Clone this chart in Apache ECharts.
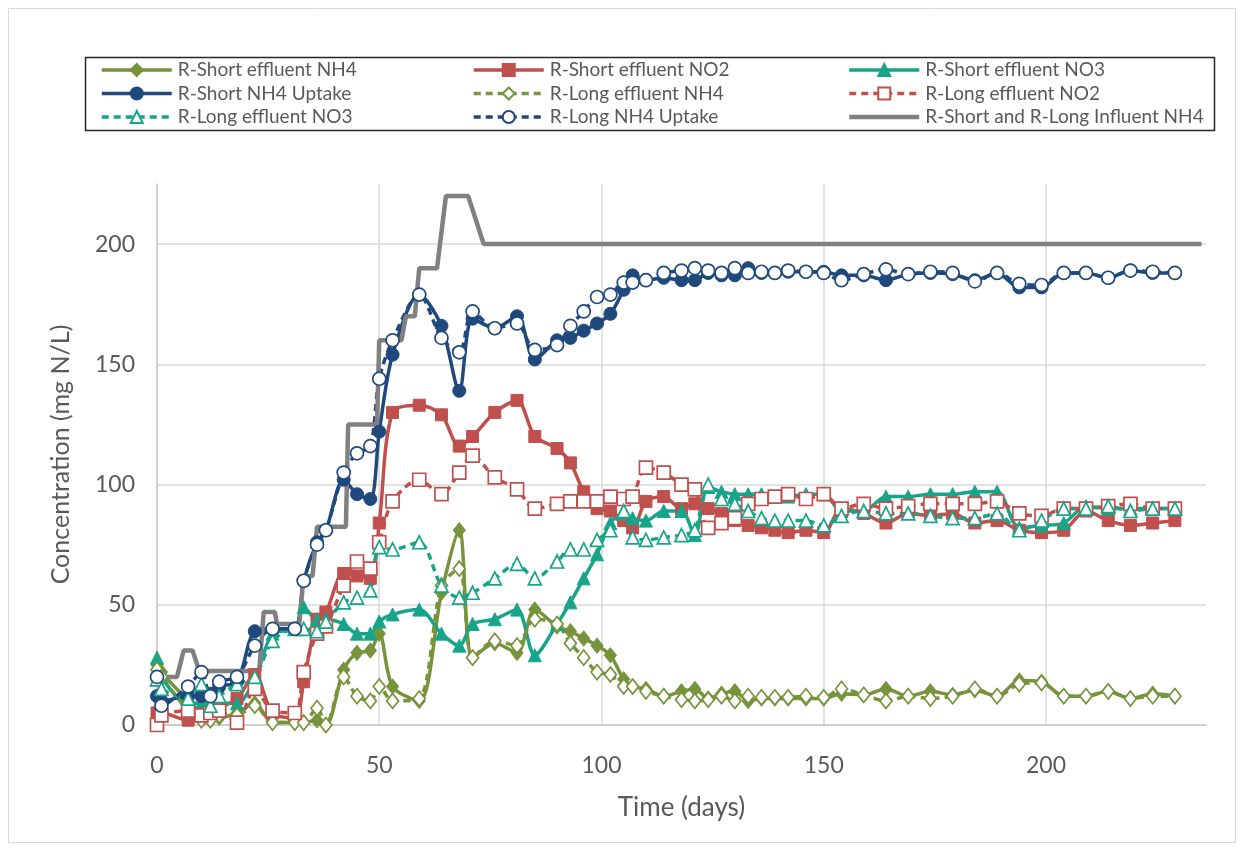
<!DOCTYPE html>
<html><head><meta charset="utf-8">
<script src="https://cdn.jsdelivr.net/npm/echarts@6/dist/echarts.min.js"></script>
<style>html,body{margin:0;padding:0;background:#fff;}#c{width:1244px;height:851px;}</style>
</head><body><div id="c"></div>
<script>
// ---- data ----
const days = [0,1,7,10,12,14,18,22,26,31,33,36,38,42,45,48,50,53,59,64,68,71,76,81,85,90,93,96,99,102,105,107,110,114,118,121,124,127,130,133,136,139,142,146,150,154,159,164,169,174,179,184,189,194,199,204,209,214,219,224,229];
const rShortNH4 = [25,22,10,5,3,3,5,9,1,1,1,2,0,23,30,31,38,16,10,55,81,28,34,30,48,41,39,36,33,29,19,16,15,12,14,15,11,13,14,10,11,11,11,11,11,13,12.5,15,12,14,12.5,14.5,12,18.5,18,12,12,14,11,13,12];
const rShortNO2 = [5,5,2,4,5,7,11,21,5,3,18,44,47,63,62,61,84,130,133,129,116,120,130,135,120,115,109,97,90,89,85,82,93,95,90,92,90,88,85,83,82,81,80,81,80,90,88,84,88,87,88,84,85,81,80,81,89,85,83,84,85];
const rShortNO3 = [28,20,9,9,10,9,9,19,38,40,49,44,44,42,38,38,43,46,48,38,33,42,44,48,29,42,51,61,71,84,88,86,85,89,89,79,99,97,96,96,96,95,95,96,96,89,89,95,95,96,96,97,97,82,83,84,91,90,90,90,90];
const rShortUptake = [12,10,12,12,13,16,18,39,40,40,60,76,81,102,96,94,122,154,179,166,139,169,165,170,152,160,161,164,167,171,181,187,185,186,185,185,188,187,187,190,188,188,188.5,188.5,188.5,187,187,185,187.5,188,187.5,185,188,182,182,188,188,186,189,188,188];
const rLongNH4 = [23,20,6,2,2,4,4,8,1,1,1,7,0,20,12,10,16,10,11,58,65,28,35,33,44,42,34,28,22,21,16,16,14,12,10.5,10,10.5,12,10,12,11.5,11.5,11.5,12,11.5,15,12.5,10,12,11,12,15,12,17,17.5,12,12,14,11,12,12];
const rLongNO2 = [0,4,6,4,5,6,1,15,6,5,22,38,41,58,68,65,76,93,102,96,105,112,103,98,90,92,93,93,93,95,94,95,107,105,100,98,82,84,86,92,94,95,96,94,96,90,92,90,91,92,92,92,93,88,87,90,90,91,92,90,90];
const rLongNO3 = [19,15,11,17,8,12,17,20,35,40,40,39,43,51,53,56,74,73,76,58,53,55,61,67,61,68,73,73,77,81,89,78,77,78,79,81,100,94,92,89,86,85,85,85,83,87,89,88,88,87,86,86,88,81,85,90,90,91,89,90,90];
const rLongUptake = [20,8,16,22,12,18,20,33,40,40,60,75,81,105,113,116,144,160,179,161,155,172,165,167,156,158,166,172,178,179,184,184,185,188,189,190,189,188,190,188,188.5,188,189,188.5,188,185,187.5,189.5,187.5,188.5,188,184.5,188,183.5,183,188,188,186,189,188.5,188];
const influentDays = [0,4.5,6,8,9.5,23,24,26.5,27,32,33,35,36,42.5,43,49.5,50,55,56,58,59,63,65,70,73.5,235];
const influentNH4 = [20,20,31,31,22.5,22.5,47,47,42,42,62,62,82.5,82.5,125,125,160,160,170,170,190,190,220,220,200,200];
const yTicks = [0,50,100,150,200];
const xTicks = [0,50,100,150,200];

// ---- styles ----
const FONT = 'Lato';
const C_GREEN = '#77933C', C_RED = '#C0504D', C_TEAL = '#17A589', C_BLUE = '#1F497D', C_GREY = '#808080';
const pairs = arr => days.map((d,i)=>[d, arr[i]]);
function filled(name, arr, color, symbol, size){
  return {name, type:'line', data:pairs(arr), smooth:0.3, symbol, symbolSize:size,
    lineStyle:{color, width:3.5}, itemStyle:{color, borderColor:color, borderWidth:1}};
}
function open(name, arr, color, symbol, size){
  return {name, type:'line', data:pairs(arr), smooth:0.3, symbol, symbolSize:size,
    lineStyle:{color, width:3.5, type:[7,5]}, itemStyle:{color:'#fff', borderColor:color, borderWidth:1.7}};
}
const series = [
  filled('R-Short effluent NH4', rShortNH4, C_GREEN, 'diamond', [12,15]),
  filled('R-Short effluent NO2', rShortNO2, C_RED, 'rect', 12),
  filled('R-Short effluent NO3', rShortNO3, C_TEAL, 'triangle', 13),
  filled('R-Short NH4 Uptake', rShortUptake, C_BLUE, 'circle', 13),
  open('R-Long effluent NH4', rLongNH4, C_GREEN, 'diamond', [12,15]),
  open('R-Long effluent NO2', rLongNO2, C_RED, 'rect', 13),
  open('R-Long effluent NO3', rLongNO3, C_TEAL, 'triangle', 13),
  open('R-Long NH4 Uptake', rLongUptake, C_BLUE, 'circle', 13),
  {name:'R-Short and R-Long Influent NH4', type:'line', data:influentDays.map((d,i)=>[d, influentNH4[i]]),
   symbol:'none', showSymbol:false, lineStyle:{color:C_GREY, width:4.5}, itemStyle:{color:'rgba(0,0,0,0)', borderWidth:0}}
];
const legBase = {orient:'vertical', top:60, itemWidth:70, itemHeight:15, itemGap:3.5, padding:0,
  lineStyle:{width:'inherit'},
  textStyle:{fontFamily:FONT, fontSize:19, color:'#595959', lineHeight:20, padding:[0,0,0,1]}};
const option = {
  animation:false,
  backgroundColor:'#fff',
  textStyle:{fontFamily:FONT},
  graphic:[
    {type:'rect', shape:{x:8.5,y:8.5,width:1227,height:834}, style:{fill:'none', stroke:'#d9d9d9', lineWidth:1}, silent:true},
    {type:'rect', shape:{x:85.5,y:57.5,width:1129,height:73}, style:{fill:'none', stroke:'#262626', lineWidth:1.5}, silent:true}
  ],
  legend:[
    Object.assign({}, legBase, {left:100, data:['R-Short effluent NH4','R-Short NH4 Uptake','R-Long effluent NO3']}),
    Object.assign({}, legBase, {left:472, data:['R-Short effluent NO2','R-Long effluent NH4','R-Long NH4 Uptake']}),
    Object.assign({}, legBase, {left:847, data:['R-Short effluent NO3','R-Long effluent NO2','R-Short and R-Long Influent NH4']})
  ],
  grid:{left:157, right:38, top:184, bottom:126, containLabel:false},
  xAxis:{type:'value', min:0, max:236, interval:50,
    name:'Time (days)', nameLocation:'middle', nameGap:70,
    nameTextStyle:{fontFamily:FONT, fontSize:26, color:'#595959'},
    axisLine:{show:true, lineStyle:{color:'#bfbfbf', width:1.5}},
    axisTick:{show:false},
    axisLabel:{fontFamily:FONT, fontSize:23, color:'#595959', margin:29, showMaxLabel:false,
      formatter:v => xTicks.includes(v) ? String(v) : ''},
    splitLine:{show:true, showMinLine:false, showMaxLine:false, lineStyle:{color:'#d9d9d9', width:1.5}}
  },
  yAxis:{type:'value', min:0, max:225, interval:50,
    name:'Concentration (mg N/L)', nameLocation:'middle', nameGap:84,
    nameTextStyle:{fontFamily:FONT, fontSize:25, color:'#595959'},
    axisLine:{show:true, lineStyle:{color:'#bfbfbf', width:1.5}},
    axisTick:{show:false},
    axisLabel:{fontFamily:FONT, fontSize:23, color:'#595959', margin:22, showMaxLabel:false,
      formatter:v => yTicks.includes(v) ? String(v) : ''},
    splitLine:{show:true, showMinLine:false, showMaxLine:false, lineStyle:{color:'#d9d9d9', width:1.5}}
  },
  series
};
const chart = echarts.init(document.getElementById('c'), null, {renderer:'canvas'});
chart.setOption(option);
</script>
</body></html>
